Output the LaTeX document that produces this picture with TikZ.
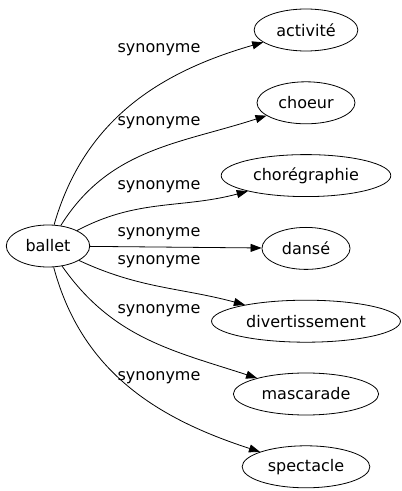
\documentclass[tikz,border=0pt]{standalone}
\usepackage{fontspec}
\setmainfont{DejaVu Sans}
\usetikzlibrary{arrows.meta,positioning,shapes.geometric}

\begin{document}
\begin{tikzpicture}[
  x=1pt, y=1pt, font=\fontsize{16}{19}\selectfont, node distance=30pt,
  word/.style={ellipse, draw, line width=0.8pt, minimum height=42pt, inner xsep=7pt, inner ysep=2pt},
  lbl/.style={inner sep=1pt},
  arr/.style={line width=0.8pt, -{Triangle[length=11pt, width=8pt]}}]
  \useasboundingbox (0,0) rectangle (402,491);
  \node[word] (ballet) at (48,245) {ballet};
  \node[word] (activite) at (306,461) {activité};
  \node[word, below=of activite] (choeur) {choeur};
  \node[word, below=of choeur] (choregraphie) {chorégraphie};
  \node[word, below=of choregraphie] (danse) {dansé};
  \node[word, below=of danse] (divert) {divertissement};
  \node[word, below=of divert] (mascarade) {mascarade};
  \node[word, below=of mascarade] (spectacle) {spectacle};
  \draw[arr] (ballet) to[out=74, in=196] (activite);
  \draw[arr] (ballet) to[out=58, in=198] (choeur);
  \draw[arr] (ballet) to[out=28, in=195] (choregraphie);
  \draw[arr] (ballet) -- (danse);
  \draw[arr] (ballet) to[out=-25, in=165] (divert);
  \draw[arr] (ballet) to[out=-55, in=162] (mascarade);
  \draw[arr] (ballet) to[out=-75, in=162] (spectacle);
  \node[lbl] (l1) at (159,441) {synonyme};
  \node[lbl] (l2) at (159,368) {synonyme};
  \node[lbl] (l3) at (159,304) {synonyme};
  \node[lbl] (l4) at (159,257) {synonyme};
  \node[lbl] (l5) at (159,229) {synonyme};
  \node[lbl] (l6) at (159,180) {synonyme};
  \node[lbl] (l7) at (159,113) {synonyme};
\end{tikzpicture}
\end{document}
